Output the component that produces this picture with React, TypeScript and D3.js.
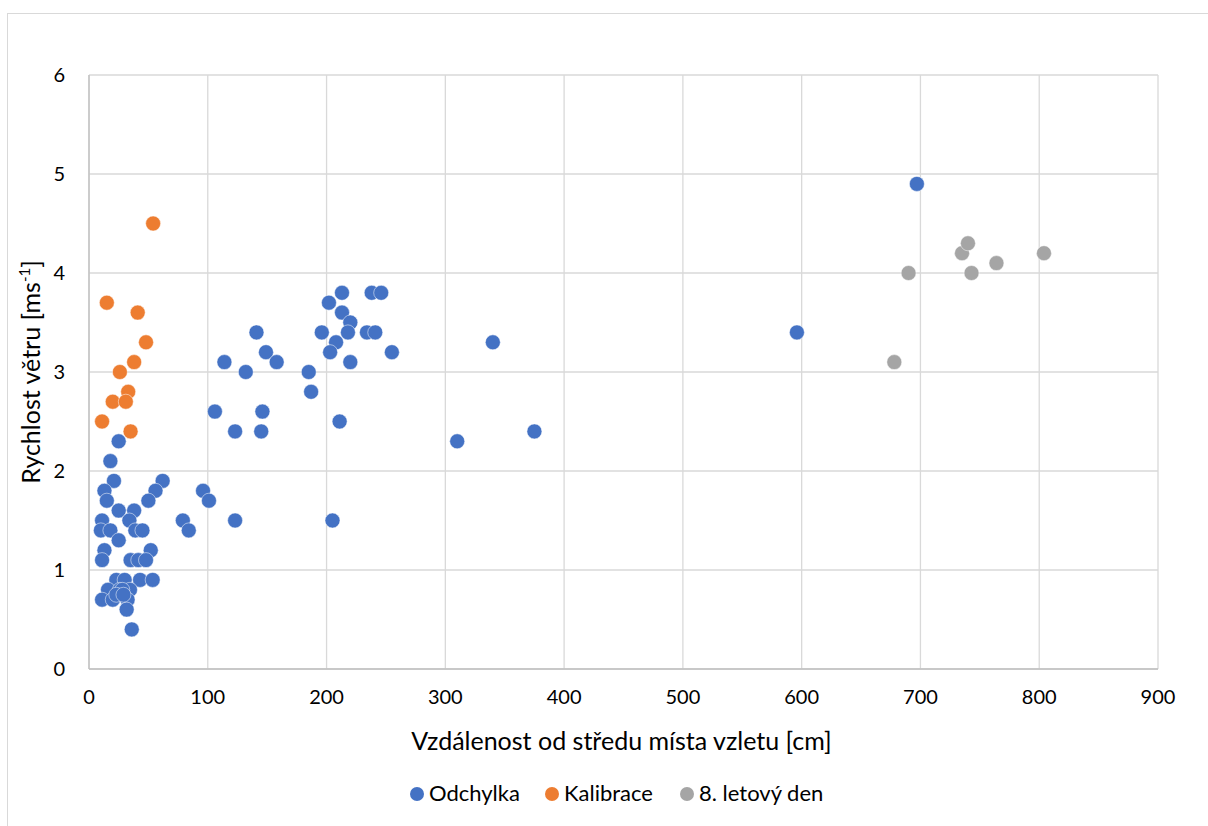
import React from "react";
import * as d3 from "d3";

const odchylkaX = [697, 596, 340, 310, 375, 213, 238, 246, 202, 213, 220, 196, 218, 234, 241, 141, 208, 203, 255, 149, 114, 158, 220, 132, 185, 187, 106, 146, 123, 145, 211, 96, 101, 123, 205, 79, 84,
  25, 18, 21, 13, 15, 62, 56, 50, 25, 38, 11, 34, 10, 18, 39, 45, 25, 13, 52, 11, 35, 41.5, 48, 23, 30, 43, 53.6, 16, 26, 34.5, 11, 20, 32.5, 31.7, 36, 28, 23, 29];
const odchylkaY = [4.9, 3.4, 3.3, 2.3, 2.4, 3.8, 3.8, 3.8, 3.7, 3.6, 3.5, 3.4, 3.4, 3.4, 3.4, 3.4, 3.3, 3.2, 3.2, 3.2, 3.1, 3.1, 3.1, 3.0, 3.0, 2.8, 2.6, 2.6, 2.4, 2.4, 2.5, 1.8, 1.7, 1.5, 1.5, 1.5, 1.4,
  2.3, 2.1, 1.9, 1.8, 1.7, 1.9, 1.8, 1.7, 1.6, 1.6, 1.5, 1.5, 1.4, 1.4, 1.4, 1.4, 1.3, 1.2, 1.2, 1.1, 1.1, 1.1, 1.1, 0.9, 0.9, 0.9, 0.9, 0.8, 0.8, 0.8, 0.7, 0.7, 0.7, 0.6, 0.4, 0.8, 0.75, 0.75];

const kalibraceX = [54, 15, 41, 48, 38, 26, 33, 20, 31, 11, 35];
const kalibraceY = [4.5, 3.7, 3.6, 3.3, 3.1, 3.0, 2.8, 2.7, 2.7, 2.5, 2.4];

const denX = [690, 735, 740, 743, 764, 804, 678];
const denY = [4.0, 4.2, 4.3, 4.0, 4.1, 4.2, 3.1];

const xTicks = [0, 100, 200, 300, 400, 500, 600, 700, 800, 900];
const yTicks = [0, 1, 2, 3, 4, 5, 6];

const seriesNames = ["Odchylka", "Kalibrace", "8. letový den"];
const colors = ["#4472C4", "#ED7D31", "#A5A5A5"];

export default function App() {
  const W = 1208, H = 826;
  const left = 89, right = 1158, top = 75, bottom = 669;
  const x = d3.scaleLinear().domain([0, 900]).range([left, right]);
  const y = d3.scaleLinear().domain([0, 6]).range([bottom, top]);
  const font = "Lato, Carlito, Calibri, sans-serif";

  const series = [
    { name: seriesNames[0], color: colors[0], xs: odchylkaX, ys: odchylkaY },
    { name: seriesNames[1], color: colors[1], xs: kalibraceX, ys: kalibraceY },
    { name: seriesNames[2], color: colors[2], xs: denX, ys: denY },
  ];

  const legendX = [417, 552, 687];

  return (
    <svg width={W} height={H} style={{ position: "absolute", left: 0, top: 0, background: "#fff" }} fontFamily={font}>
      <rect x={0} y={0} width={W} height={H} fill="#fff" />
      <rect x={7.5} y={13.5} width={W + 10} height={H + 10} fill="#fff" stroke="#d9d9d9" strokeWidth={1} />
      {xTicks.map((t) => (
        <line key={"gx" + t} x1={x(t)} x2={x(t)} y1={top} y2={bottom} stroke="#d9d9d9" strokeWidth={1.3} />
      ))}
      {yTicks.map((t) => (
        <line key={"gy" + t} x1={left} x2={right} y1={y(t)} y2={y(t)} stroke="#d9d9d9" strokeWidth={1.3} />
      ))}
      <line x1={left} x2={left} y1={top} y2={bottom} stroke="#bfbfbf" strokeWidth={1.3} />
      <line x1={left} x2={right} y1={bottom} y2={bottom} stroke="#bfbfbf" strokeWidth={1.3} />
      {xTicks.map((t) => (
        <text key={"tx" + t} x={x(t)} y={bottom + 35} textAnchor="middle" fontSize={20} fill="#000">{t}</text>
      ))}
      {yTicks.map((t) => (
        <text key={"ty" + t} x={left - 24} y={y(t) + 7} textAnchor="end" fontSize={20} fill="#000">{t}</text>
      ))}
      <text x={(left + right) / 2 - 2} y={750} textAnchor="middle" fontSize={25} fill="#000">Vzdálenost od středu místa vzletu [cm]</text>
      <text transform={`translate(40, ${(top + bottom) / 2}) rotate(-90)`} textAnchor="middle" fontSize={25} fill="#000">
        Rychlost větru [ms<tspan dy={-10} fontSize={15}>-1</tspan><tspan dy={10}>]</tspan>
      </text>
      {series.map((s) => (
        <g key={s.name}>
          {s.xs.map((v, i) => (
            <circle key={i} cx={x(v)} cy={y(s.ys[i])} r={7.5} fill={s.color} stroke="#fff" strokeWidth={0.5} />
          ))}
        </g>
      ))}
      {series.map((s, i) => (
        <g key={"lg" + i}>
          <circle cx={legendX[i]} cy={794} r={7} fill={s.color} />
          <text x={legendX[i] + 12} y={801} fontSize={22} fill="#000">{s.name}</text>
        </g>
      ))}
    </svg>
  );
}
